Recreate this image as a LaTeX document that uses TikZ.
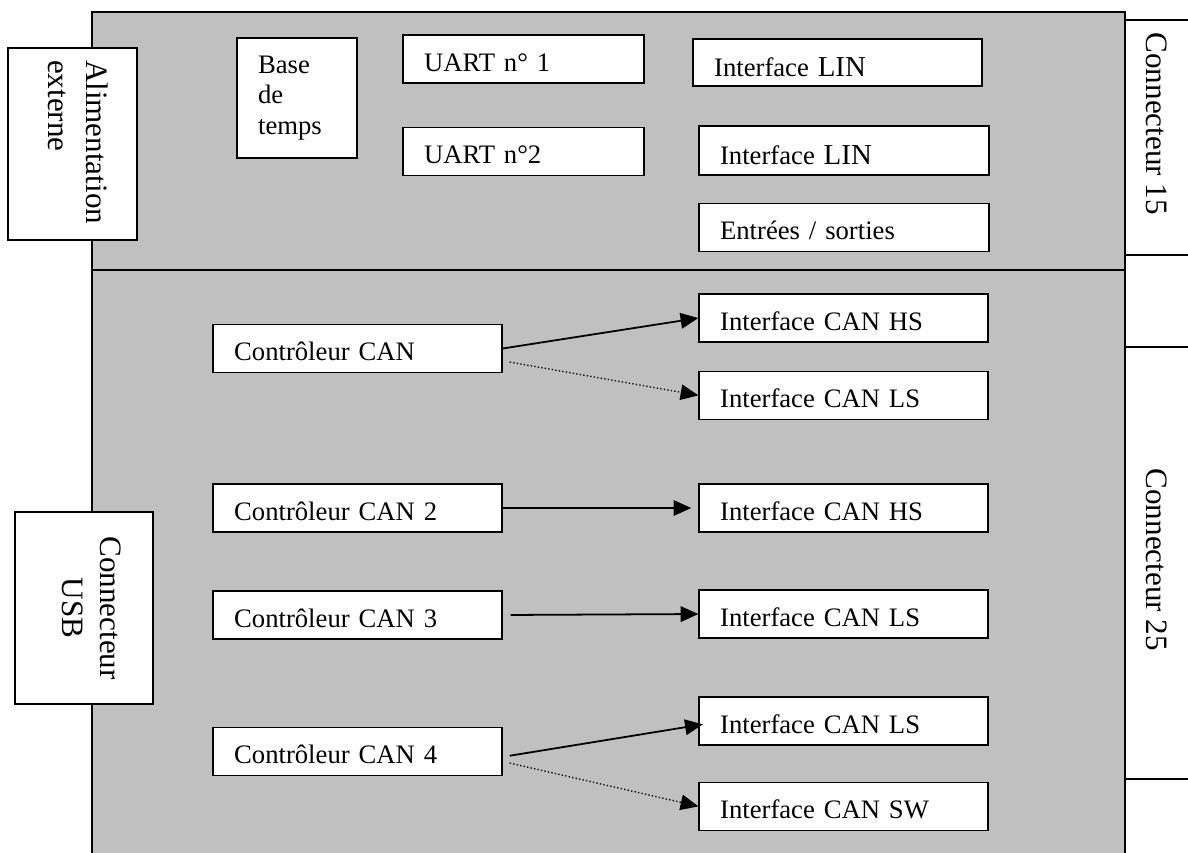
\documentclass[tikz,border=0pt]{standalone}
\usepackage{fontspec}
\setmainfont{Liberation Serif}
\usepackage{tikz}
\usetikzlibrary{arrows.meta, positioning, calc}
\definecolor{boardgray}{RGB}{192,192,192}

\begin{document}
\begin{tikzpicture}[
    x=0.45pt, y=-0.45pt,
    line width=0.6pt,
    every node/.style={font=\fontsize{12pt}{13.8pt}\selectfont},
    box/.style={draw, fill=white, inner xsep=9.5pt, inner ysep=3pt},
    module/.style={box, minimum height=21.6pt, text width=111pt, text height=11pt, text depth=0pt},
    side/.style={draw, fill=white, rotate=-90, inner ysep=2pt,
                 font=\fontsize{14pt}{17pt}\selectfont},
    conn/.style={rotate=-90, anchor=base west, inner sep=0pt,
                 font=\fontsize{14pt}{17pt}\selectfont},
    link/.style={-{Triangle[length=8pt, width=7pt]}, line width=0.8pt},
    dotlink/.style={link, line width=0.6pt, densely dotted}
]
\useasboundingbox (0,0) rectangle (1188,852);
\clip (0,0) rectangle (1188,852);

% board
\draw[fill=boardgray] (92,12) rectangle (1125,270);
\draw[fill=boardgray] (92,270) rectangle (1125,900);

% connector column
\draw (1125,20) rectangle (1220,255);
\draw (1125,255) rectangle (1220,347);
\draw (1125,347) rectangle (1220,779);
\draw (1125,779) rectangle (1220,900);
\node[conn] (c15) at (1146,32) {Connecteur 15};
\node[conn] (c25) at (1146,468) {Connecteur 25};

% side blocks
\node[side, align=left, inner xsep=5.4pt, text width=75.6pt, minimum height=58pt,
      text height=4.8pt, text depth=17pt] (alim) at (72.5,144) {Alimentation\\externe};
\node[side, align=center, inner xsep=4pt, text width=78.4pt, minimum height=62.1pt,
      text height=2.6pt, text depth=17pt] (usb) at (84,608) {Connecteur\\USB};

% upper part
\node[box, align=left, text width=35pt, minimum height=54pt] (base) at (297,98) {Base\\de\\temps};
\node[module, text width=89.5pt] (uart1) at (523.5,59) {UART n° 1};
\node[module, text width=89.5pt, below=19.35pt of uart1] (uart2) {UART n°2};
\node[module, text height=13pt, minimum height=21.15pt] (lin1) at (837.5,62.5)
    {Interface {\fontsize{13pt}{14pt}\selectfont LIN}};
\node[module, text width=111.5pt, text height=13pt, minimum height=22pt] (lin2) at (844,150.5)
    {Interface {\fontsize{13pt}{14pt}\selectfont LIN}};
\node[module, text width=111.5pt, below=12.15pt of lin2] (io) {Entrées / sorties};

% CAN part
\node[module] (can1) at (357.5,348.5) {Contrôleur CAN};
\node[module] (hs1) at (843.5,318) {Interface CAN HS};
\node[module, below=12.6pt of hs1] (ls1) {Interface CAN LS};
\node[module] (can2) at (357.5,508) {Contrôleur CAN 2};
\node[module] (hs2) at (843.5,508) {Interface CAN HS};
\node[module] (can3) at (357.5,615) {Contrôleur CAN 3};
\node[module] (ls2) at (843.5,614) {Interface CAN LS};
\node[module] (can4) at (357.5,751.5) {Contrôleur CAN 4};
\node[module] (ls3) at (843.5,721) {Interface CAN LS};
\node[module, below=16.2pt of ls3] (sw) {Interface CAN SW};

\draw[link] (can1.east) -- (hs1.west);
\draw[dotlink] ([xshift=3.2pt, yshift=-6.1pt]can1.east) -- (ls1.west);
\draw[link, shorten >=3.2pt] (can2.east) -- (hs2.west);
\draw[link, shorten <=3.6pt] (can3.east) -- (ls2.west);
\draw[link] ([xshift=3.2pt, yshift=-1.9pt]can4.east) -- ([xshift=2pt, yshift=-1.5pt]ls3.west);
\draw[dotlink] ([xshift=3.2pt, yshift=-5.2pt]can4.east) -- (sw.west);
\end{tikzpicture}
\end{document}
